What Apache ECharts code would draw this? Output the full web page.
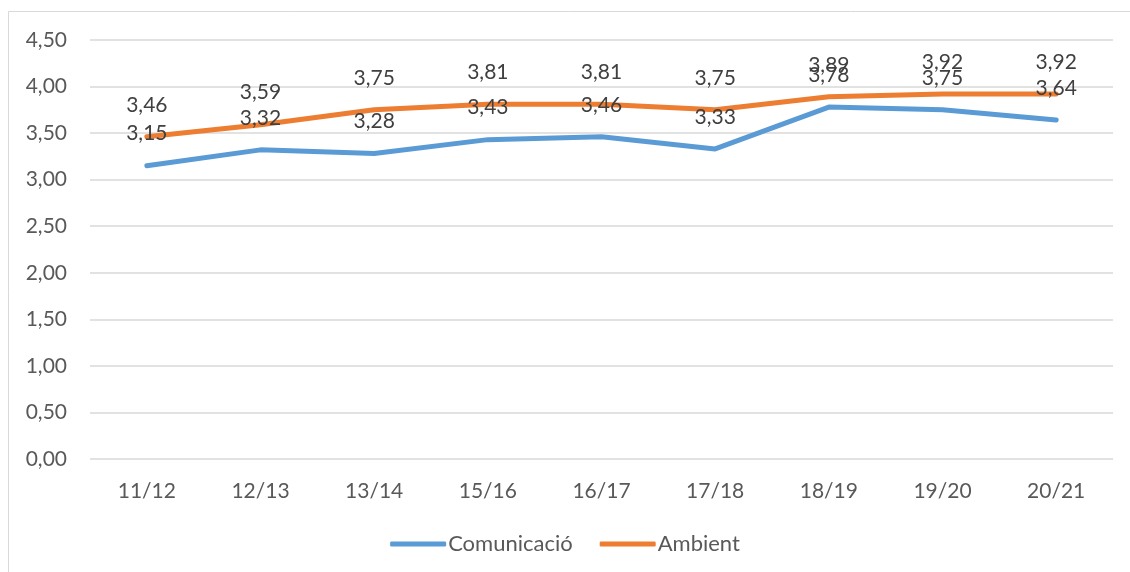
<!DOCTYPE html>
<html><head><meta charset="utf-8">
<script src="https://cdn.jsdelivr.net/npm/echarts@6/dist/echarts.min.js"></script>
<style>html,body{margin:0;padding:0;background:#fff}#c{width:1130px;height:572px}</style>
</head><body><div id="c"></div>
<script>
const categories = ['11/12','12/13','13/14','15/16','16/17','17/18','18/19','19/20','20/21'];
const comunicacio = [3.15,3.32,3.28,3.43,3.46,3.33,3.78,3.75,3.64];
const ambient = [3.46,3.59,3.75,3.81,3.81,3.75,3.89,3.92,3.92];
const fmt = v => v.toFixed(2).replace('.', ',');
const FONT = 'Lato, "Open Sans", sans-serif';
const chart = echarts.init(document.getElementById('c'));
const lbl = {show:true, position:'top', distance:21, color:'#404040', fontSize:21, fontFamily:FONT, formatter:p=>fmt(p.value)};
chart.setOption({
  animation:false,
  graphic:[{type:'rect', shape:{x:8.5,y:11.5,width:1130,height:600}, style:{fill:'none', stroke:'#d9d9d9', lineWidth:1}, silent:true}],
  grid:{left:90, right:17, top:40, bottom:113},
  legend:{bottom:12, left:'center', itemWidth:56, itemHeight:5, itemGap:27,
    icon:'roundRect',
    textStyle:{color:'#595959', fontSize:22, fontFamily:FONT, padding:[0,0,0,-3]},
    data:['Comunicació','Ambient']},
  xAxis:{type:'category', data:categories, boundaryGap:true,
    axisLine:{show:false}, axisTick:{show:false},
    axisLabel:{color:'#595959', fontSize:21, fontFamily:FONT, margin:22}},
  yAxis:{type:'value', min:0, max:4.5, interval:0.5,
    axisLine:{show:false}, axisTick:{show:false},
    splitLine:{lineStyle:{color:'#d9d9d9', width:1.5}},
    axisLabel:{color:'#595959', fontSize:21, fontFamily:FONT, margin:23, formatter:v=>fmt(v)}},
  series:[
    {name:'Comunicació', type:'line', data:comunicacio, symbol:'circle', symbolSize:1, showSymbol:true, color:'#5B9BD5',
     lineStyle:{width:5, color:'#5B9BD5', cap:'round'}, label:lbl, labelLayout:{hideOverlap:false}},
    {name:'Ambient', type:'line', data:ambient, symbol:'circle', symbolSize:1, showSymbol:true, color:'#ED7D31',
     lineStyle:{width:5, color:'#ED7D31', cap:'round'}, label:lbl, labelLayout:{hideOverlap:false}}
  ]
});
</script></body></html>
